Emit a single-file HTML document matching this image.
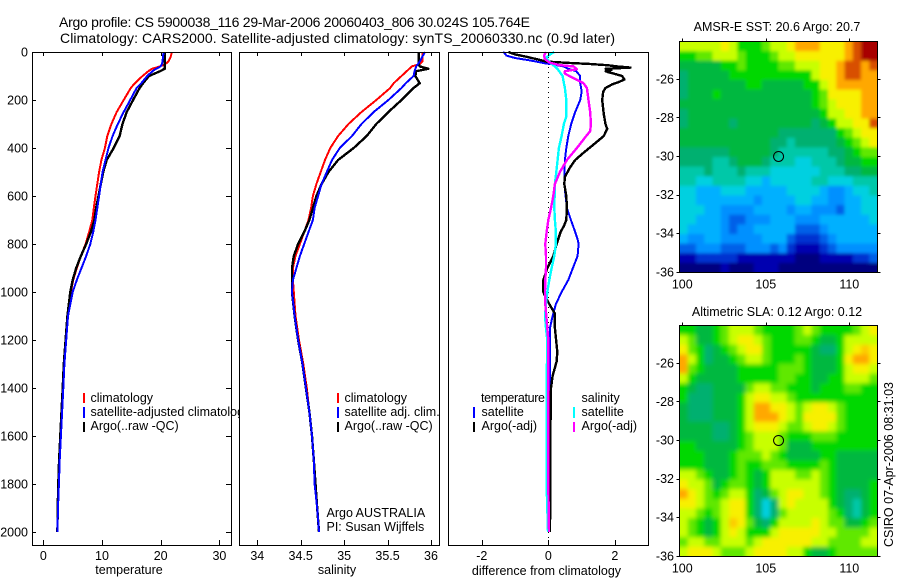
<!DOCTYPE html>
<html><head><meta charset="utf-8"><title>Argo profile</title>
<style>
html,body{margin:0;padding:0;background:#fff;width:900px;height:580px;overflow:hidden}
svg{display:block}
text{font-family:"Liberation Sans",sans-serif;font-size:12.5px;fill:#000}
.line{fill:none;stroke-linejoin:round;shape-rendering:crispEdges}
.frame{fill:none;stroke:#000;stroke-width:1}
</style></head>
<body>
<svg id="chart" width="900" height="580" viewBox="0 0 900 580" xmlns="http://www.w3.org/2000/svg">
<defs>
<filter id="blurA" filterUnits="userSpaceOnUse" x="650" y="10" width="250" height="290"><feGaussianBlur stdDeviation="1.6"/></filter>
<filter id="blurB" filterUnits="userSpaceOnUse" x="650" y="295" width="250" height="285"><feGaussianBlur stdDeviation="2"/></filter>
<clipPath id="clipA"><rect x="679.5" y="41.5" width="198" height="231"/></clipPath>
<clipPath id="clipB"><rect x="679.5" y="325.5" width="198" height="231"/></clipPath>
</defs>
<rect width="900" height="580" fill="#fff"/>
<text x="59" y="27" textLength="471" style="font-size:14px">Argo profile: CS 5900038_116 29-Mar-2006 20060403_806 30.024S 105.764E</text>
<text x="60" y="43" textLength="555" style="font-size:14px">Climatology: CARS2000. Satellite-adjusted climatology: synTS_20060330.nc (0.9d later)</text>

<g id="panelT">
<rect x="32.5" y="52.5" width="199" height="493" fill="#fff"/>
<g id="seriesT"></g>
<rect x="83" y="393" width="2" height="10" fill="#f00"/>
<rect x="83" y="407" width="2" height="11" fill="#00f"/>
<rect x="83" y="422" width="2" height="10" fill="#000"/>
<text x="90.5" y="402">climatology</text>
<text x="90.5" y="416">satellite-adjusted climatology</text>
<text x="90.5" y="430">Argo(..raw -QC)</text>
<text x="129" y="574" text-anchor="middle">temperature</text>
</g>

<g id="panelS">
<rect x="239.5" y="52.5" width="200" height="493" fill="#fff"/>
<g id="seriesS"></g>
<rect x="337" y="393" width="2" height="10" fill="#f00"/>
<rect x="337" y="407" width="2" height="11" fill="#00f"/>
<rect x="337" y="422" width="2" height="10" fill="#000"/>
<text x="344.5" y="402">climatology</text>
<text x="344.5" y="416">satellite adj. clim.</text>
<text x="344.5" y="430">Argo(..raw -QC)</text>
<text x="326.5" y="517">Argo AUSTRALIA</text>
<text x="326.5" y="531">PI: Susan Wijffels</text>
<text x="337" y="574" text-anchor="middle">salinity</text>
</g>

<g id="panelD">
<rect x="448.5" y="52.5" width="200" height="493" fill="#fff"/>
<line x1="548.5" y1="52" x2="548.5" y2="545" stroke="#000" stroke-width="1" stroke-dasharray="1 4"/>
<g id="seriesD"></g>
<rect x="473" y="407" width="2" height="11" fill="#00f"/>
<rect x="473" y="422" width="2" height="10" fill="#000"/>
<rect x="573" y="407" width="2" height="11" fill="#0ff"/>
<rect x="573" y="422" width="2" height="10" fill="#f0f"/>
<text x="481" y="402" textLength="64">temperature</text>
<text x="481.5" y="416">satellite</text>
<text x="481.5" y="430">Argo(-adj)</text>
<text x="581.5" y="402">salinity</text>
<text x="581.5" y="416">satellite</text>
<text x="581.5" y="430">Argo(-adj)</text>
<text x="546.5" y="575" text-anchor="middle">difference from climatology</text>
</g>

<g id="mapA">
<g clip-path="url(#clipA)"><g id="cellsA" filter="url(#blurA)"></g></g>
</g>
<g id="mapB">
<g clip-path="url(#clipB)"><g id="cellsB" filter="url(#blurB)"></g></g>
</g>
<text x="777" y="31" text-anchor="middle">AMSR-E SST: 20.6 Argo: 20.7</text>
<text x="777" y="316" text-anchor="middle">Altimetric SLA: 0.12 Argo: 0.12</text>
<text transform="translate(893,547) rotate(-90)" textLength="165">CSIRO 07-Apr-2006 08:31:03</text>
</svg>
<script>
// ---------- profile data ----------
const depths = [0,20,40,50,60,70,80,100,130,150,200,250,300,350,400,450,500,550,600,650,700,750,800,850,900,950,1000,1100,1200,1300,1400,1500,1600,1700,1800,1900,2000];
const tempClim = [21.9,21.7,21.3,20.8,19.9,18.5,17.9,16.9,15.6,14.9,13.7,12.5,11.6,10.9,10.5,9.9,9.5,9.2,8.9,8.6,8.35,7.8,7.2,6.4,5.7,5.1,4.7,4.1,3.8,3.5,3.3,3.1,2.9,2.7,2.55,2.45,2.4];
const tempSat = [20.5,20.4,20.3,20.2,20.0,19.2,18.6,17.7,16.7,15.9,14.8,13.7,12.7,11.8,11.1,10.6,10.1,9.8,9.5,9.2,8.9,8.5,8.0,7.3,6.5,5.7,5.0,4.2,3.9,3.6,3.4,3.2,3.0,2.8,2.65,2.5,2.4];
const tempArgo = [20.7,20.7,20.7,20.7,20.7,20.7,19.9,18,17,16.4,15.3,14.2,13.5,13,12,10.8,10.2,9.8,9.4,9,8.7,8.1,7.3,6.4,5.6,5,4.6,4.1,3.8,3.5,3.3,3.1,2.9,2.7,2.55,2.45,2.4];
const salClim = [35.90,35.90,35.90,35.87,35.78,35.75,35.72,35.66,35.57,35.53,35.37,35.2,35.05,34.93,34.84,34.78,34.73,34.68,34.64,34.62,34.59,34.54,34.49,34.44,34.41,34.41,34.42,34.44,34.48,34.53,34.57,34.6,34.63,34.65,34.67,34.69,34.71];
const salSat = [35.93,35.9,35.87,35.85,35.83,35.82,35.81,35.8,35.71,35.66,35.51,35.34,35.2,35.09,34.95,34.86,34.8,34.74,34.7,34.66,34.64,34.59,34.54,34.49,34.45,34.41,34.4,34.43,34.47,34.52,34.56,34.6,34.63,34.65,34.66,34.69,34.71];
const salArgo = [35.86,35.86,35.86,35.86,35.87,35.97,35.83,35.82,35.87,35.8,35.66,35.51,35.37,35.26,35.11,34.93,34.82,34.74,34.68,34.64,34.6,34.54,34.47,34.42,34.4,34.4,34.4,34.43,34.47,34.52,34.56,34.6,34.63,34.65,34.67,34.69,34.71];

const diffTempSatDepths = [0,5,15,25,35,47,50,60,70,80,100,130,150,170,200,250,300,350,400,450,500,550,600,650,700,750,780,800,850,900,950,1000,1050,1100,1150,1300,1800,2000];
const diffTempSat = [-1.36,-1.31,-1.26,-1.0,-0.55,-0.1,0.05,0.45,0.6,0.84,0.96,0.96,0.99,1.0,0.96,0.81,0.69,0.6,0.54,0.5,0.48,0.48,0.52,0.56,0.68,0.81,0.88,0.91,0.88,0.74,0.6,0.4,0.23,0.13,0.05,0.05,0.05,0.03];
const diffTempArgoDepths = [0,10,20,30,40,45,50,55,60,65,70,75,80,85,90,100,115,125,135,150,165,200,260,300,320,350,380,420,450,480,520,550,600,650,700,725,750,800,850,900,950,1000,1030,1060,1090,1150,1250,1290,1350,1400,1500,2000];
const diffTempArgo = [-1.2,-1.0,-0.65,-0.35,-0.05,0.55,1.26,1.77,2.07,2.47,1.72,1.9,1.72,1.82,1.97,2.22,2.29,2.12,1.92,1.72,1.65,1.62,1.67,1.72,1.77,1.67,1.41,1.06,0.81,0.66,0.5,0.48,0.54,0.56,0.54,0.47,0.37,0.25,0.15,-0.03,-0.15,-0.15,-0.05,0.07,0.2,0.2,0.27,0.25,0.13,0.08,0.07,0.05];
const diffSalSatDepths = [0,10,25,35,45,60,75,100,130,150,200,270,300,350,400,450,500,550,600,650,700,750,800,850,900,950,1000,1050,1100,1150,1200,1400,1800,1900,2000];
const diffSalSat = [0.18,0.05,-0.07,0,0.05,0.2,0.3,0.43,0.47,0.5,0.54,0.54,0.47,0.4,0.32,0.28,0.24,0.2,0.19,0.18,0.2,0.23,0.23,0.18,0.1,0.03,-0.03,-0.07,-0.1,-0.07,-0.03,-0.05,-0.05,-0.03,-0.01];
const diffSalArgoDepths = [0,15,30,45,55,60,72,80,90,105,130,150,200,250,300,330,350,400,450,500,550,600,650,700,750,800,850,900,950,1000,1050,1100,1200,1300,1800,2000];
const diffSalArgo = [-0.07,-0.13,-0.1,0.05,0.35,0.76,0.86,0.5,0.5,0.7,1.06,1.16,1.21,1.26,1.28,1.26,1.14,0.86,0.56,0.35,0.2,0.15,0.08,0,-0.05,-0.09,-0.07,-0.07,-0.09,-0.1,-0.09,-0.06,0,0,0,0.02];

const depthTicks = [0,200,400,600,800,1000,1200,1400,1600,1800,2000];
const tempTicks = [0,10,20,30];
const salTicks = [34,34.5,35,35.5,36];
const diffTicks = [-2,0,2];
const lonTicks = [100,105,110];
const latTicks = [-26,-28,-30,-32,-34,-36];

// ---------- map data (colour level per cell, rows north to south) ----------
const sstGrid = [
[12,12,12,12,12,13,12,10,10,10,11,12,12,13,14,14,14,13,13,13,14,15,16,16],
[10,10,11,11,12,12,12,11,10,10,10,11,12,12,13,13,13,13,13,13,14,15,16,16],
[9,9,9,9,9,10,10,11,10,10,10,10,11,11,12,12,12,13,13,14,15,15,14,15],
[8,9,9,9,9,9,10,10,10,10,10,10,10,10,10,10,12,13,13,14,15,15,14,14],
[8,9,9,9,9,9,9,9,10,10,9,9,9,9,9,10,10,12,13,14,14,14,14,14],
[8,9,9,9,10,9,9,9,9,9,9,9,9,9,9,9,10,11,13,13,13,13,14,14],
[9,9,9,9,9,9,9,9,9,9,9,9,9,9,9,9,10,11,12,13,13,13,14,14],
[8,9,9,9,9,9,9,9,9,9,9,9,9,9,9,9,9,10,12,12,13,13,14,14],
[8,9,9,9,9,9,8,9,9,9,9,9,9,9,9,9,8,9,10,12,12,13,13,15],
[9,9,9,9,9,9,9,9,9,9,9,9,8,8,8,8,8,8,8,10,11,12,13,13],
[9,9,9,9,9,9,9,9,9,9,9,8,8,7,8,8,8,8,8,9,10,11,12,13],
[8,8,8,8,8,8,9,9,9,9,9,8,7,7,7,7,7,7,8,8,9,10,11,11],
[8,8,8,8,7,7,8,9,9,9,8,7,7,7,6,6,7,7,7,8,9,9,10,10],
[7,7,7,8,7,7,7,8,7,7,7,6,6,6,6,6,6,7,7,7,8,8,9,9],
[7,7,6,6,7,7,7,7,6,6,5,6,6,6,6,6,7,7,6,6,6,7,7,7],
[6,6,5,5,5,6,6,6,5,5,5,5,5,6,6,6,6,5,4,4,5,6,6,7],
[6,6,5,5,5,5,5,5,5,4,5,5,5,5,6,6,5,5,4,4,5,5,6,6],
[6,6,6,5,5,4,4,4,4,5,5,5,5,4,5,5,4,4,4,3,5,5,6,6],
[6,6,5,5,5,4,3,3,4,4,4,5,5,5,4,4,4,5,5,5,5,5,5,6],
[6,5,5,5,5,4,3,4,4,5,5,5,5,5,3,3,3,4,5,5,5,5,5,5],
[5,4,4,5,5,4,4,4,4,4,5,5,5,3,2,2,2,3,4,5,5,5,5,5],
[3,3,4,4,4,3,3,3,4,4,4,3,4,2,1,1,1,2,3,4,4,4,4,4],
[1,1,2,2,2,2,2,1,1,1,1,1,1,1,0,0,0,1,1,1,1,2,2,3],
[0,0,0,0,0,1,0,0,0,1,1,1,0,0,0,0,0,0,0,0,0,0,0,0]
];
const slaGrid = [
[10,10,9,9,10,11,12,12,12,11,10,10,10,10,11,12,11,10,10,10,10,11,12,13],
[12,11,9,9,10,11,12,13,13,12,11,10,10,10,11,11,10,9,9,10,12,12,12,12],
[13,11,10,8,9,10,11,12,13,13,11,10,10,10,10,10,9,8,8,10,12,13,13.5,13],
[14,12,10,8,9,9,10,11,12,12,11,10,10,10,11,10,9,9,9,10,13,14,14,13],
[14,11,10,9,9,9,9,10,10,10,10,10,11,11,11,10,9,9,9,10,12,13,13,12],
[12,10,9,9,9,9,9,10,10,10,10,10,11,11,10,10,9,9,10,10,12,12,12,11],
[10,9,8,8,9,9,9,9,11,12,12,11,11,10,10,10,9,10,10,10,11,11,10,10],
[10,8,8,8,9,9,9,10,12,13,13,12,12,11,10,10,10,10,10,10,10,10,10,10],
[9,8,8,8,9,9,9,10,12,14,14,13,13,12,11,12,13,13,12,11,10,10,10,10],
[9,8,8,8,9,9,9,10,12,14,14,14,13,12,11,13,13,13,13,11,10,10,10,10],
[9,9,9,9,8,8,9,10,12,13,13,13,12,11,11,12,13,13,12,11,10,10,10,10],
[9,9,9,9,8,8,9,10,11,12,12,12,11,10,10,10,11,11,11,10,10,10,10,10],
[10,10,9,9,9,9,9,10,11,12,12,12,11,9,9,9,10,10,10,10,10,10,10,10],
[10,10,10,9,9,9,10,11,11,11,12,11,10,9,9,9,9,10,10,9,9,9,9,9],
[10,10,10,9,9,9,10,11,10,10,11,11,11,10,10,10,10,11,10,9,9,9,9,9],
[12,12,11,10,9,9,10,11,10,9,10,12,12,12,11,11,12,11,10,9,9,9,9,9],
[13,12,12,11,9,10,11,11,10,9,10,12,12,12,12,12,12,11,10,9,9,9,9,10],
[14,13,12,11,10,11,12,12,10,8,9,11,12,13,13,12,12,11,10,9,8,8,9,10],
[13,13,12,11,11,12,13,13,10,8,6,8,12,13,12,12,12,12,10,9,8,7,9,10],
[12,12,11,10,11,12,13,13,10,8,6,8,11,12,12,12,12,12,11,10,8,7,9,10],
[12,11,10,9,10,12,13.5,13,11,9,8,10,12,12,12,12,13,12,11,11,9,9,10,11],
[12,11,10,9,10,12,13,12,10,10,10,12,13,13,13,13,13,12,12,11,11,11,11,12],
[11,12,12,11,11,12,12,12,11,12,13,13,13,13,13,13,12,12,11,11,11,11,12,12],
[12,13,13,13,12,11,11,11,12,13,13,13,13,12,12,10,9,9,10,11,11,11,11,11]
];
const colorStops = ["#00007f","#0000b0","#0030d0","#0060e8","#0090ff","#00b0ff","#00d0e0","#00c8a8","#00b070","#00b840","#00d800","#60e800","#c8ff00","#f8f000","#ffa800","#d85000","#a80000"];
const floatLon = 105.764;
const floatLat = -30.024;

// ---------- helpers ----------
const NS = "http://www.w3.org/2000/svg";
function make(tag, parent, attrs){
  const el = document.createElementNS(NS, tag);
  for (const k in attrs) el.setAttribute(k, attrs[k]);
  parent.appendChild(el);
  return el;
}
const yDepth = d => 52 + 0.24 * d;
const xTemp = v => 43.3 + 5.87 * v;
const xSal = v => 257.3 + 86.85 * (v - 34);
const xDiff = v => 548.3 + 33.25 * v;
const xLon = v => 682.3 + 16.7 * (v - 100);

function drawLine(group, ds, vs, xf, color, width, name){
  const pts = ds.map((d, i) => xf(vs[i]).toFixed(1) + "," + yDepth(d).toFixed(1)).join(" ");
  const el = make("polyline", group, {points: pts, stroke: color, "stroke-width": width, class: "line"});
  
  
}
function tickLabel(parent, x, y, str, anchor){
  const t = make("text", parent, {x: x, y: y, "text-anchor": anchor});
  t.textContent = str;
  
  
}
function tickMark(parent, x1, y1, x2, y2){
  const l = make("line", parent, {x1: x1, y1: y1, x2: x2, y2: y2, stroke: "#000", "stroke-width": 1});
  
  
}
function frame(parent, x, y, w, h){
  const r = make("rect", parent, {x: x, y: y, width: w, height: h, class: "frame"});
  
  
}
function xAxis(parent, ticks, xf){
  ticks.forEach(v => {
    const x = Math.round(xf(v)) + 0.5;
    tickMark(parent, x, 52, x, 56);
    tickMark(parent, x, 545, x, 540);
    tickLabel(parent, xf(v), 560, String(v), "middle");
  });
}

// ---------- temperature ----------
const gT = document.getElementById("seriesT");
drawLine(gT, depths, tempClim, xTemp, "#f00", 2, "temperature-climatology-line");
drawLine(gT, depths, tempArgo, xTemp, "#000", 2.4, "temperature-argo-line");
drawLine(gT, depths, tempSat, xTemp, "#00f", 2, "temperature-satellite-line");
const pT = document.getElementById("panelT");
frame(pT, 32.5, 52.5, 199, 493);
xAxis(pT, tempTicks, xTemp);
depthTicks.forEach(d => {
  const y = Math.round(yDepth(d)) + 0.5;
  tickMark(pT, 32, y, 36, y);
  tickMark(pT, 231, y, 226, y);
  tickLabel(pT, 28, yDepth(d) + 4.5, String(d), "end");
});

// ---------- salinity ----------
const gS = document.getElementById("seriesS");
drawLine(gS, depths, salClim, xSal, "#f00", 2, "salinity-climatology-line");
drawLine(gS, depths, salArgo, xSal, "#000", 2.4, "salinity-argo-line");
drawLine(gS, depths, salSat, xSal, "#00f", 2, "salinity-satellite-line");
const pS = document.getElementById("panelS");
frame(pS, 239.5, 52.5, 200, 493);
xAxis(pS, salTicks, xSal);

// ---------- differences ----------
const gD = document.getElementById("seriesD");
drawLine(gD, diffTempSatDepths, diffTempSat, xDiff, "#00f", 2, "difference-temperature-satellite-line");
drawLine(gD, diffTempArgoDepths, diffTempArgo, xDiff, "#000", 2.4, "difference-temperature-argo-line");
drawLine(gD, diffSalSatDepths, diffSalSat, xDiff, "#0ff", 2.4, "difference-salinity-satellite-line");
drawLine(gD, diffSalArgoDepths, diffSalArgo, xDiff, "#f0f", 2.4, "difference-salinity-argo-line");
const pD = document.getElementById("panelD");
frame(pD, 448.5, 52.5, 200, 493);
xAxis(pD, diffTicks, xDiff);

// ---------- maps ----------
function levelColor(v){
  const i = Math.max(0, Math.min(colorStops.length - 1, v));
  const a = Math.floor(i), b = Math.min(colorStops.length - 1, a + 1), f = i - a;
  const p = s => [1, 3, 5].map(n => parseInt(s.substr(n, 2), 16));
  const A = p(colorStops[a]), B = p(colorStops[b]);
  return "rgb(" + A.map((c, n) => Math.round(c + (B[n] - c) * f)).join(",") + ")";
}
function drawMap(parent, cells, grid, top){
  const left = 679.5, w = 198, h = 231, bleed = 14;
  const nr = grid.length, nc = grid[0].length;
  const cw = w / nc, ch = h / nr;
  grid.forEach((row, r) => row.forEach((v, c) => {
    const x0 = c === 0 ? left - bleed : left + c * cw;
    const x1 = c === nc - 1 ? left + w + bleed : left + (c + 1) * cw + 0.4;
    const y0 = r === 0 ? top - bleed : top + r * ch;
    const y1 = r === nr - 1 ? top + h + bleed : top + (r + 1) * ch + 0.4;
    const cell = make("rect", cells, {x: x0.toFixed(2), y: y0.toFixed(2), width: (x1 - x0).toFixed(2), height: (y1 - y0).toFixed(2), fill: levelColor(v)});
    
    
  }));
  frame(parent, left, top, w, h);
  const yLat = lat => top + 230.3 - (lat + 36) * 19.3;
  lonTicks.forEach(v => {
    const x = Math.round(xLon(v)) + 0.5;
    tickMark(parent, x, top, x, top - 3);
    tickLabel(parent, xLon(v), top + 247, String(v), "middle");
  });
  latTicks.forEach(v => {
    const y = Math.round(yLat(v)) + 0.5;
    tickMark(parent, left, y, left - 3, y);
    tickMark(parent, left + w, y, left + w + 3, y);
    tickLabel(parent, 674, yLat(v) + 4.5, String(v), "end");
  });
  const mark = make("circle", parent, {cx: xLon(floatLon), cy: yLat(floatLat), r: 5, fill: "none", stroke: "#000", "stroke-width": 1});
  
  
}
drawMap(document.getElementById("mapA"), document.getElementById("cellsA"), sstGrid, 41.5);
drawMap(document.getElementById("mapB"), document.getElementById("cellsB"), slaGrid, 325.5);
</script>
</body></html>
